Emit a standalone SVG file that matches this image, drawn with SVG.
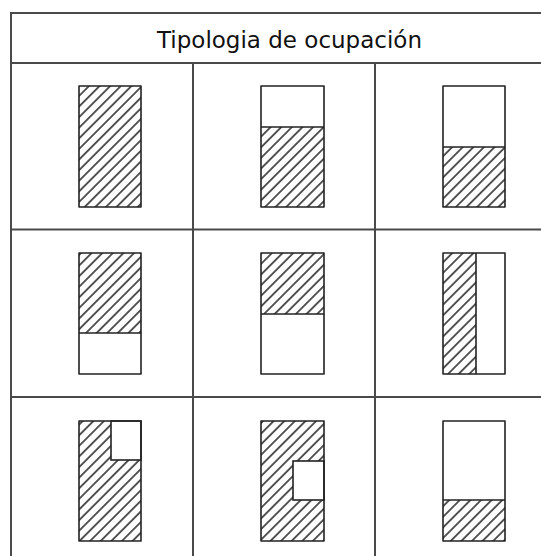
<svg xmlns="http://www.w3.org/2000/svg" width="541" height="556" viewBox="0 0 541 556">
<defs>
<pattern id="hatch" patternUnits="userSpaceOnUse" width="7.5" height="7.5" patternTransform="rotate(45)">
<line x1="3.75" y1="-1" x2="3.75" y2="8.5" stroke="#222" stroke-width="1.5"/>
</pattern>
</defs>
<style>
.grid{stroke:#4a4a4a;stroke-width:2;fill:none}
.h{fill:url(#hatch);stroke:none}
.o{fill:none;stroke:#222;stroke-width:1.6;stroke-linejoin:round}
.w{fill:#fff;stroke:#222;stroke-width:1.6}
.t{font-family:"DejaVu Sans",Verdana,sans-serif;font-size:23px;fill:#111}
</style>
<rect width="541" height="556" fill="#fff"/>
<g id="connectors">
<rect class="grid" x="11" y="13" width="546" height="560"/>
<line class="grid" x1="11" y1="63" x2="557" y2="63"/>
<line class="grid" x1="11" y1="229.5" x2="557" y2="229.5"/>
<line class="grid" x1="11" y1="397" x2="557" y2="397"/>
<line class="grid" x1="193" y1="63" x2="193" y2="573"/>
<line class="grid" x1="375" y1="63" x2="375" y2="573"/>
</g>
<g id="title"><text class="t" x="289.5" y="47.5" text-anchor="middle">Tipologia de ocupación</text></g>
<g id="c11">
<rect class="h" x="79" y="86" width="62" height="121"/>
<rect class="o" x="79" y="86" width="62" height="121"/>
</g>
<g id="c12">
<rect class="h" x="261" y="127" width="63" height="80"/>
<rect class="o" x="261" y="86" width="63" height="121"/>
<line class="o" x1="261" y1="127" x2="324" y2="127"/>
</g>
<g id="c13">
<rect class="h" x="443" y="147" width="62" height="60"/>
<rect class="o" x="443" y="86" width="62" height="121"/>
<line class="o" x1="443" y1="147" x2="505" y2="147"/>
</g>
<g id="c21">
<rect class="h" x="79" y="253" width="62" height="80"/>
<rect class="o" x="79" y="253" width="62" height="121"/>
<line class="o" x1="79" y1="333" x2="141" y2="333"/>
</g>
<g id="c22">
<rect class="h" x="261" y="253" width="63" height="61"/>
<rect class="o" x="261" y="253" width="63" height="121"/>
<line class="o" x1="261" y1="314" x2="324" y2="314"/>
</g>
<g id="c23">
<rect class="h" x="443" y="253" width="33" height="121"/>
<rect class="o" x="443" y="253" width="62" height="121"/>
<line class="o" x1="476" y1="253" x2="476" y2="374"/>
</g>
<g id="c31">
<rect class="h" x="79" y="421" width="62" height="120"/>
<rect class="w" x="111" y="421" width="30" height="39"/>
<rect class="o" x="79" y="421" width="62" height="120"/>
</g>
<g id="c32">
<rect class="h" x="261" y="421" width="63" height="120"/>
<rect class="w" x="293" y="461" width="31" height="39"/>
<rect class="o" x="261" y="421" width="63" height="120"/>
</g>
<g id="c33">
<rect class="h" x="443" y="500" width="62" height="41"/>
<rect class="o" x="443" y="421" width="62" height="120"/>
<line class="o" x1="443" y1="500" x2="505" y2="500"/>
</g>
</svg>
